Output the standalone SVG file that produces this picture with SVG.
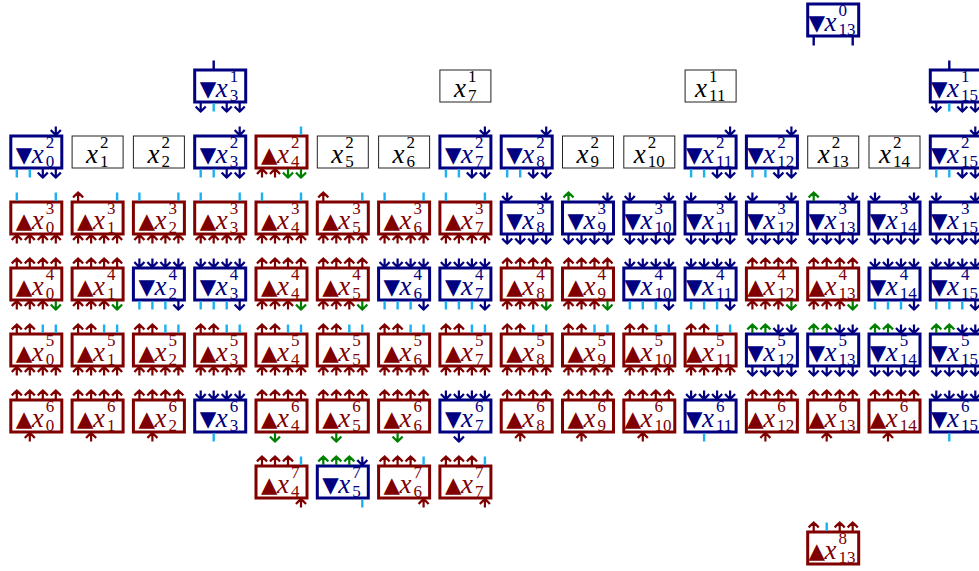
<svg xmlns="http://www.w3.org/2000/svg" width="979" height="571" viewBox="0 0 979 571">
<style>
rect{fill:#fff}
.R rect{stroke:#800000;stroke-width:3}
.B rect{stroke:#000080;stroke-width:3}
.P rect{stroke:#222;stroke-width:1}
.R text{fill:#800000}
.B text{fill:#000080}
.P text{fill:#000}
.t{font-family:"DejaVu Sans",sans-serif;font-size:21.5px}
.x{font-family:"Liberation Serif",serif;font-style:italic;font-size:27px}
.d{font-family:"Liberation Serif",serif;font-size:17px}
.ar path{fill:none;stroke:currentColor;stroke-width:2.2}
.tk{fill:none;stroke:currentColor;stroke-width:2.4}
.cr{color:#800000}
.cb{color:#000080}
.cg{color:#008000}
.cc{color:#1CB0F0}
.cn{color:#000080}
</style>
<defs>
<g id="dn" class="ar"><path d="M0,-8.5V0M-5,-5C-3.2,-2.8 -1.1,-1.1 0,0C1.1,-1.1 3.2,-2.8 5,-5"/></g>
<g id="up" class="ar"><path d="M0,8.5V0M-5,5C-3.2,2.8 -1.1,1.1 0,0C1.1,1.1 3.2,2.8 5,5"/></g>
<path id="tk" class="tk" d="M0,0V8.5"/>
<g id="bR4"><use href="#up" class="cr" x="-19.5" y="17"/><use href="#up" class="cr" x="-6.5" y="17"/><use href="#up" class="cr" x="6.5" y="17"/><use href="#up" class="cr" x="19.5" y="17"/></g>
<g id="bB4"><use href="#dn" class="cb" x="-19.5" y="25.5"/><use href="#dn" class="cb" x="-6.5" y="25.5"/><use href="#dn" class="cb" x="6.5" y="25.5"/><use href="#dn" class="cb" x="19.5" y="25.5"/></g>
<g id="tR4"><use href="#up" class="cr" x="-19.5" y="-25.5"/><use href="#up" class="cr" x="-6.5" y="-25.5"/><use href="#up" class="cr" x="6.5" y="-25.5"/><use href="#up" class="cr" x="19.5" y="-25.5"/></g>
<g id="tB4"><use href="#dn" class="cb" x="-19.5" y="-17"/><use href="#dn" class="cb" x="-6.5" y="-17"/><use href="#dn" class="cb" x="6.5" y="-17"/><use href="#dn" class="cb" x="19.5" y="-17"/></g>
<g id="T0"><use href="#tk" class="cn" x="-19.5" y="17"/><use href="#tk" class="cn" x="19.5" y="17"/></g>
<g id="T1"><use href="#tk" class="cn" x="-6.5" y="-25.5"/><use href="#dn" class="cb" x="-19.5" y="25.5"/><use href="#tk" class="cc" x="-6.5" y="17"/><use href="#dn" class="cb" x="6.5" y="25.5"/><use href="#dn" class="cb" x="19.5" y="25.5"/></g>
<g id="T2B"><use href="#dn" class="cb" x="19.5" y="-17"/><use href="#tk" class="cc" x="-19.5" y="17"/><use href="#tk" class="cc" x="-6.5" y="17"/><use href="#dn" class="cb" x="6.5" y="25.5"/><use href="#dn" class="cb" x="19.5" y="25.5"/></g>
<g id="T2R"><use href="#tk" class="cc" x="19.5" y="-25.5"/><use href="#up" class="cr" x="-19.5" y="17"/><use href="#up" class="cr" x="-6.5" y="17"/><use href="#dn" class="cg" x="6.5" y="25.5"/><use href="#dn" class="cg" x="19.5" y="25.5"/></g>
<g id="T3Ra"><use href="#tk" class="cc" x="-19.5" y="-25.5"/><use href="#tk" class="cc" x="19.5" y="-25.5"/><use href="#bR4"/></g>
<g id="T3Rb"><use href="#up" class="cr" x="-19.5" y="-25.5"/><use href="#tk" class="cc" x="19.5" y="-25.5"/><use href="#bR4"/></g>
<g id="T3Ba"><use href="#dn" class="cb" x="-19.5" y="-17"/><use href="#dn" class="cb" x="19.5" y="-17"/><use href="#bB4"/></g>
<g id="T3Bb"><use href="#up" class="cg" x="-19.5" y="-25.5"/><use href="#dn" class="cb" x="19.5" y="-17"/><use href="#bB4"/></g>
<g id="T4R"><use href="#tR4"/><use href="#up" class="cr" x="-19.5" y="17"/><use href="#up" class="cr" x="-6.5" y="17"/><use href="#up" class="cr" x="6.5" y="17"/><use href="#dn" class="cg" x="19.5" y="25.5"/></g>
<g id="T4B"><use href="#tB4"/><use href="#tk" class="cc" x="-19.5" y="17"/><use href="#tk" class="cc" x="-6.5" y="17"/><use href="#tk" class="cc" x="6.5" y="17"/><use href="#dn" class="cb" x="19.5" y="25.5"/></g>
<g id="T5R"><use href="#up" class="cr" x="-19.5" y="-25.5"/><use href="#up" class="cr" x="-6.5" y="-25.5"/><use href="#tk" class="cc" x="6.5" y="-25.5"/><use href="#tk" class="cc" x="19.5" y="-25.5"/><use href="#bR4"/></g>
<g id="T5B"><use href="#up" class="cg" x="-19.5" y="-25.5"/><use href="#up" class="cg" x="-6.5" y="-25.5"/><use href="#dn" class="cb" x="6.5" y="-17"/><use href="#dn" class="cb" x="19.5" y="-17"/><use href="#bB4"/></g>
<g id="T6Ra"><use href="#tR4"/><use href="#up" class="cr" x="-6.5" y="17"/></g>
<g id="T6Rg"><use href="#tR4"/><use href="#dn" class="cg" x="-6.5" y="25.5"/></g>
<g id="T6Bc"><use href="#tB4"/><use href="#tk" class="cc" x="-6.5" y="17"/></g>
<g id="T6Bb"><use href="#tB4"/><use href="#dn" class="cb" x="-6.5" y="25.5"/></g>
<g id="T7R"><use href="#up" class="cr" x="-19.5" y="-25.5"/><use href="#up" class="cr" x="-6.5" y="-25.5"/><use href="#up" class="cr" x="6.5" y="-25.5"/><use href="#tk" class="cc" x="19.5" y="-25.5"/><use href="#up" class="cr" x="19.5" y="17"/></g>
<g id="T7B"><use href="#up" class="cg" x="-19.5" y="-25.5"/><use href="#up" class="cg" x="-6.5" y="-25.5"/><use href="#up" class="cg" x="6.5" y="-25.5"/><use href="#dn" class="cb" x="19.5" y="-17"/><use href="#tk" class="cc" x="19.5" y="17"/></g>
<g id="T8"><use href="#up" class="cr" x="-19.5" y="-25.5"/><use href="#tk" class="cc" x="-6.5" y="-25.5"/><use href="#up" class="cr" x="6.5" y="-25.5"/><use href="#up" class="cr" x="19.5" y="-25.5"/></g>
</defs>

<g id="nodes">
<g id="x0_13" class="B" transform="translate(833.2,20)"><rect x="-25.5" y="-16" width="51" height="32"/><text><tspan class="t" x="-24.7" y="10">▼</tspan><tspan class="x" x="-8.7" y="11">x</tspan><tspan class="d" x="5.3" y="-4.2">0</tspan><tspan class="d" x="5.3" y="14.7">13</tspan></text></g>

<g id="x1_3" class="B" transform="translate(220.2,86)"><rect x="-25.5" y="-16" width="51" height="32"/><text><tspan class="t" x="-20.5" y="10">▼</tspan><tspan class="x" x="-4.5" y="11">x</tspan><tspan class="d" x="9.5" y="-4.2">1</tspan><tspan class="d" x="9.5" y="14.7">3</tspan></text></g>
<g id="x1_7" class="P" transform="translate(465.4,86)"><rect x="-25.5" y="-16" width="51" height="32"/><text><tspan class="x" x="-11.5" y="11">x</tspan><tspan class="d" x="2.5" y="-4.2">1</tspan><tspan class="d" x="2.5" y="14.7">7</tspan></text></g>
<g id="x1_11" class="P" transform="translate(710.6,86)"><rect x="-25.5" y="-16" width="51" height="32"/><text><tspan class="x" x="-15.5" y="11">x</tspan><tspan class="d" x="-1.5" y="-4.2">1</tspan><tspan class="d" x="-1.5" y="14.7">11</tspan></text></g>
<g id="x1_15" class="B" transform="translate(955.8,86)"><rect x="-25.5" y="-16" width="51" height="32"/><text><tspan class="t" x="-24.7" y="10">▼</tspan><tspan class="x" x="-8.7" y="11">x</tspan><tspan class="d" x="5.3" y="-4.2">1</tspan><tspan class="d" x="5.3" y="14.7">15</tspan></text></g>

<g id="x2_0" class="B" transform="translate(36.3,152)"><rect x="-25.5" y="-16" width="51" height="32"/><text><tspan class="t" x="-20.5" y="10">▼</tspan><tspan class="x" x="-4.5" y="11">x</tspan><tspan class="d" x="9.5" y="-4.2">2</tspan><tspan class="d" x="9.5" y="14.7">0</tspan></text></g>
<g id="x2_1" class="P" transform="translate(97.6,152)"><rect x="-25.5" y="-16" width="51" height="32"/><text><tspan class="x" x="-11.5" y="11">x</tspan><tspan class="d" x="2.5" y="-4.2">2</tspan><tspan class="d" x="2.5" y="14.7">1</tspan></text></g>
<g id="x2_2" class="P" transform="translate(158.9,152)"><rect x="-25.5" y="-16" width="51" height="32"/><text><tspan class="x" x="-11.5" y="11">x</tspan><tspan class="d" x="2.5" y="-4.2">2</tspan><tspan class="d" x="2.5" y="14.7">2</tspan></text></g>
<g id="x2_3" class="B" transform="translate(220.2,152)"><rect x="-25.5" y="-16" width="51" height="32"/><text><tspan class="t" x="-20.5" y="10">▼</tspan><tspan class="x" x="-4.5" y="11">x</tspan><tspan class="d" x="9.5" y="-4.2">2</tspan><tspan class="d" x="9.5" y="14.7">3</tspan></text></g>
<g id="x2_4" class="R" transform="translate(281.5,152)"><rect x="-25.5" y="-16" width="51" height="32"/><text><tspan class="t" x="-20.5" y="10">▲</tspan><tspan class="x" x="-4.5" y="11">x</tspan><tspan class="d" x="9.5" y="-4.2">2</tspan><tspan class="d" x="9.5" y="14.7">4</tspan></text></g>
<g id="x2_5" class="P" transform="translate(342.8,152)"><rect x="-25.5" y="-16" width="51" height="32"/><text><tspan class="x" x="-11.5" y="11">x</tspan><tspan class="d" x="2.5" y="-4.2">2</tspan><tspan class="d" x="2.5" y="14.7">5</tspan></text></g>
<g id="x2_6" class="P" transform="translate(404.1,152)"><rect x="-25.5" y="-16" width="51" height="32"/><text><tspan class="x" x="-11.5" y="11">x</tspan><tspan class="d" x="2.5" y="-4.2">2</tspan><tspan class="d" x="2.5" y="14.7">6</tspan></text></g>
<g id="x2_7" class="B" transform="translate(465.4,152)"><rect x="-25.5" y="-16" width="51" height="32"/><text><tspan class="t" x="-20.5" y="10">▼</tspan><tspan class="x" x="-4.5" y="11">x</tspan><tspan class="d" x="9.5" y="-4.2">2</tspan><tspan class="d" x="9.5" y="14.7">7</tspan></text></g>
<g id="x2_8" class="B" transform="translate(526.7,152)"><rect x="-25.5" y="-16" width="51" height="32"/><text><tspan class="t" x="-20.5" y="10">▼</tspan><tspan class="x" x="-4.5" y="11">x</tspan><tspan class="d" x="9.5" y="-4.2">2</tspan><tspan class="d" x="9.5" y="14.7">8</tspan></text></g>
<g id="x2_9" class="P" transform="translate(588,152)"><rect x="-25.5" y="-16" width="51" height="32"/><text><tspan class="x" x="-11.5" y="11">x</tspan><tspan class="d" x="2.5" y="-4.2">2</tspan><tspan class="d" x="2.5" y="14.7">9</tspan></text></g>
<g id="x2_10" class="P" transform="translate(649.3,152)"><rect x="-25.5" y="-16" width="51" height="32"/><text><tspan class="x" x="-15.5" y="11">x</tspan><tspan class="d" x="-1.5" y="-4.2">2</tspan><tspan class="d" x="-1.5" y="14.7">10</tspan></text></g>
<g id="x2_11" class="B" transform="translate(710.6,152)"><rect x="-25.5" y="-16" width="51" height="32"/><text><tspan class="t" x="-24.7" y="10">▼</tspan><tspan class="x" x="-8.7" y="11">x</tspan><tspan class="d" x="5.3" y="-4.2">2</tspan><tspan class="d" x="5.3" y="14.7">11</tspan></text></g>
<g id="x2_12" class="B" transform="translate(771.9,152)"><rect x="-25.5" y="-16" width="51" height="32"/><text><tspan class="t" x="-24.7" y="10">▼</tspan><tspan class="x" x="-8.7" y="11">x</tspan><tspan class="d" x="5.3" y="-4.2">2</tspan><tspan class="d" x="5.3" y="14.7">12</tspan></text></g>
<g id="x2_13" class="P" transform="translate(833.2,152)"><rect x="-25.5" y="-16" width="51" height="32"/><text><tspan class="x" x="-15.5" y="11">x</tspan><tspan class="d" x="-1.5" y="-4.2">2</tspan><tspan class="d" x="-1.5" y="14.7">13</tspan></text></g>
<g id="x2_14" class="P" transform="translate(894.5,152)"><rect x="-25.5" y="-16" width="51" height="32"/><text><tspan class="x" x="-15.5" y="11">x</tspan><tspan class="d" x="-1.5" y="-4.2">2</tspan><tspan class="d" x="-1.5" y="14.7">14</tspan></text></g>
<g id="x2_15" class="B" transform="translate(955.8,152)"><rect x="-25.5" y="-16" width="51" height="32"/><text><tspan class="t" x="-24.7" y="10">▼</tspan><tspan class="x" x="-8.7" y="11">x</tspan><tspan class="d" x="5.3" y="-4.2">2</tspan><tspan class="d" x="5.3" y="14.7">15</tspan></text></g>

<g id="x3_0" class="R" transform="translate(36.3,218)"><rect x="-25.5" y="-16" width="51" height="32"/><text><tspan class="t" x="-20.5" y="10">▲</tspan><tspan class="x" x="-4.5" y="11">x</tspan><tspan class="d" x="9.5" y="-4.2">3</tspan><tspan class="d" x="9.5" y="14.7">0</tspan></text></g>
<g id="x3_1" class="R" transform="translate(97.6,218)"><rect x="-25.5" y="-16" width="51" height="32"/><text><tspan class="t" x="-20.5" y="10">▲</tspan><tspan class="x" x="-4.5" y="11">x</tspan><tspan class="d" x="9.5" y="-4.2">3</tspan><tspan class="d" x="9.5" y="14.7">1</tspan></text></g>
<g id="x3_2" class="R" transform="translate(158.9,218)"><rect x="-25.5" y="-16" width="51" height="32"/><text><tspan class="t" x="-20.5" y="10">▲</tspan><tspan class="x" x="-4.5" y="11">x</tspan><tspan class="d" x="9.5" y="-4.2">3</tspan><tspan class="d" x="9.5" y="14.7">2</tspan></text></g>
<g id="x3_3" class="R" transform="translate(220.2,218)"><rect x="-25.5" y="-16" width="51" height="32"/><text><tspan class="t" x="-20.5" y="10">▲</tspan><tspan class="x" x="-4.5" y="11">x</tspan><tspan class="d" x="9.5" y="-4.2">3</tspan><tspan class="d" x="9.5" y="14.7">3</tspan></text></g>
<g id="x3_4" class="R" transform="translate(281.5,218)"><rect x="-25.5" y="-16" width="51" height="32"/><text><tspan class="t" x="-20.5" y="10">▲</tspan><tspan class="x" x="-4.5" y="11">x</tspan><tspan class="d" x="9.5" y="-4.2">3</tspan><tspan class="d" x="9.5" y="14.7">4</tspan></text></g>
<g id="x3_5" class="R" transform="translate(342.8,218)"><rect x="-25.5" y="-16" width="51" height="32"/><text><tspan class="t" x="-20.5" y="10">▲</tspan><tspan class="x" x="-4.5" y="11">x</tspan><tspan class="d" x="9.5" y="-4.2">3</tspan><tspan class="d" x="9.5" y="14.7">5</tspan></text></g>
<g id="x3_6" class="R" transform="translate(404.1,218)"><rect x="-25.5" y="-16" width="51" height="32"/><text><tspan class="t" x="-20.5" y="10">▲</tspan><tspan class="x" x="-4.5" y="11">x</tspan><tspan class="d" x="9.5" y="-4.2">3</tspan><tspan class="d" x="9.5" y="14.7">6</tspan></text></g>
<g id="x3_7" class="R" transform="translate(465.4,218)"><rect x="-25.5" y="-16" width="51" height="32"/><text><tspan class="t" x="-20.5" y="10">▲</tspan><tspan class="x" x="-4.5" y="11">x</tspan><tspan class="d" x="9.5" y="-4.2">3</tspan><tspan class="d" x="9.5" y="14.7">7</tspan></text></g>
<g id="x3_8" class="B" transform="translate(526.7,218)"><rect x="-25.5" y="-16" width="51" height="32"/><text><tspan class="t" x="-20.5" y="10">▼</tspan><tspan class="x" x="-4.5" y="11">x</tspan><tspan class="d" x="9.5" y="-4.2">3</tspan><tspan class="d" x="9.5" y="14.7">8</tspan></text></g>
<g id="x3_9" class="B" transform="translate(588,218)"><rect x="-25.5" y="-16" width="51" height="32"/><text><tspan class="t" x="-20.5" y="10">▼</tspan><tspan class="x" x="-4.5" y="11">x</tspan><tspan class="d" x="9.5" y="-4.2">3</tspan><tspan class="d" x="9.5" y="14.7">9</tspan></text></g>
<g id="x3_10" class="B" transform="translate(649.3,218)"><rect x="-25.5" y="-16" width="51" height="32"/><text><tspan class="t" x="-24.7" y="10">▼</tspan><tspan class="x" x="-8.7" y="11">x</tspan><tspan class="d" x="5.3" y="-4.2">3</tspan><tspan class="d" x="5.3" y="14.7">10</tspan></text></g>
<g id="x3_11" class="B" transform="translate(710.6,218)"><rect x="-25.5" y="-16" width="51" height="32"/><text><tspan class="t" x="-24.7" y="10">▼</tspan><tspan class="x" x="-8.7" y="11">x</tspan><tspan class="d" x="5.3" y="-4.2">3</tspan><tspan class="d" x="5.3" y="14.7">11</tspan></text></g>
<g id="x3_12" class="B" transform="translate(771.9,218)"><rect x="-25.5" y="-16" width="51" height="32"/><text><tspan class="t" x="-24.7" y="10">▼</tspan><tspan class="x" x="-8.7" y="11">x</tspan><tspan class="d" x="5.3" y="-4.2">3</tspan><tspan class="d" x="5.3" y="14.7">12</tspan></text></g>
<g id="x3_13" class="B" transform="translate(833.2,218)"><rect x="-25.5" y="-16" width="51" height="32"/><text><tspan class="t" x="-24.7" y="10">▼</tspan><tspan class="x" x="-8.7" y="11">x</tspan><tspan class="d" x="5.3" y="-4.2">3</tspan><tspan class="d" x="5.3" y="14.7">13</tspan></text></g>
<g id="x3_14" class="B" transform="translate(894.5,218)"><rect x="-25.5" y="-16" width="51" height="32"/><text><tspan class="t" x="-24.7" y="10">▼</tspan><tspan class="x" x="-8.7" y="11">x</tspan><tspan class="d" x="5.3" y="-4.2">3</tspan><tspan class="d" x="5.3" y="14.7">14</tspan></text></g>
<g id="x3_15" class="B" transform="translate(955.8,218)"><rect x="-25.5" y="-16" width="51" height="32"/><text><tspan class="t" x="-24.7" y="10">▼</tspan><tspan class="x" x="-8.7" y="11">x</tspan><tspan class="d" x="5.3" y="-4.2">3</tspan><tspan class="d" x="5.3" y="14.7">15</tspan></text></g>

<g id="x4_0" class="R" transform="translate(36.3,284)"><rect x="-25.5" y="-16" width="51" height="32"/><text><tspan class="t" x="-20.5" y="10">▲</tspan><tspan class="x" x="-4.5" y="11">x</tspan><tspan class="d" x="9.5" y="-4.2">4</tspan><tspan class="d" x="9.5" y="14.7">0</tspan></text></g>
<g id="x4_1" class="R" transform="translate(97.6,284)"><rect x="-25.5" y="-16" width="51" height="32"/><text><tspan class="t" x="-20.5" y="10">▲</tspan><tspan class="x" x="-4.5" y="11">x</tspan><tspan class="d" x="9.5" y="-4.2">4</tspan><tspan class="d" x="9.5" y="14.7">1</tspan></text></g>
<g id="x4_2" class="B" transform="translate(158.9,284)"><rect x="-25.5" y="-16" width="51" height="32"/><text><tspan class="t" x="-20.5" y="10">▼</tspan><tspan class="x" x="-4.5" y="11">x</tspan><tspan class="d" x="9.5" y="-4.2">4</tspan><tspan class="d" x="9.5" y="14.7">2</tspan></text></g>
<g id="x4_3" class="B" transform="translate(220.2,284)"><rect x="-25.5" y="-16" width="51" height="32"/><text><tspan class="t" x="-20.5" y="10">▼</tspan><tspan class="x" x="-4.5" y="11">x</tspan><tspan class="d" x="9.5" y="-4.2">4</tspan><tspan class="d" x="9.5" y="14.7">3</tspan></text></g>
<g id="x4_4" class="R" transform="translate(281.5,284)"><rect x="-25.5" y="-16" width="51" height="32"/><text><tspan class="t" x="-20.5" y="10">▲</tspan><tspan class="x" x="-4.5" y="11">x</tspan><tspan class="d" x="9.5" y="-4.2">4</tspan><tspan class="d" x="9.5" y="14.7">4</tspan></text></g>
<g id="x4_5" class="R" transform="translate(342.8,284)"><rect x="-25.5" y="-16" width="51" height="32"/><text><tspan class="t" x="-20.5" y="10">▲</tspan><tspan class="x" x="-4.5" y="11">x</tspan><tspan class="d" x="9.5" y="-4.2">4</tspan><tspan class="d" x="9.5" y="14.7">5</tspan></text></g>
<g id="x4_6" class="B" transform="translate(404.1,284)"><rect x="-25.5" y="-16" width="51" height="32"/><text><tspan class="t" x="-20.5" y="10">▼</tspan><tspan class="x" x="-4.5" y="11">x</tspan><tspan class="d" x="9.5" y="-4.2">4</tspan><tspan class="d" x="9.5" y="14.7">6</tspan></text></g>
<g id="x4_7" class="B" transform="translate(465.4,284)"><rect x="-25.5" y="-16" width="51" height="32"/><text><tspan class="t" x="-20.5" y="10">▼</tspan><tspan class="x" x="-4.5" y="11">x</tspan><tspan class="d" x="9.5" y="-4.2">4</tspan><tspan class="d" x="9.5" y="14.7">7</tspan></text></g>
<g id="x4_8" class="R" transform="translate(526.7,284)"><rect x="-25.5" y="-16" width="51" height="32"/><text><tspan class="t" x="-20.5" y="10">▲</tspan><tspan class="x" x="-4.5" y="11">x</tspan><tspan class="d" x="9.5" y="-4.2">4</tspan><tspan class="d" x="9.5" y="14.7">8</tspan></text></g>
<g id="x4_9" class="R" transform="translate(588,284)"><rect x="-25.5" y="-16" width="51" height="32"/><text><tspan class="t" x="-20.5" y="10">▲</tspan><tspan class="x" x="-4.5" y="11">x</tspan><tspan class="d" x="9.5" y="-4.2">4</tspan><tspan class="d" x="9.5" y="14.7">9</tspan></text></g>
<g id="x4_10" class="B" transform="translate(649.3,284)"><rect x="-25.5" y="-16" width="51" height="32"/><text><tspan class="t" x="-24.7" y="10">▼</tspan><tspan class="x" x="-8.7" y="11">x</tspan><tspan class="d" x="5.3" y="-4.2">4</tspan><tspan class="d" x="5.3" y="14.7">10</tspan></text></g>
<g id="x4_11" class="B" transform="translate(710.6,284)"><rect x="-25.5" y="-16" width="51" height="32"/><text><tspan class="t" x="-24.7" y="10">▼</tspan><tspan class="x" x="-8.7" y="11">x</tspan><tspan class="d" x="5.3" y="-4.2">4</tspan><tspan class="d" x="5.3" y="14.7">11</tspan></text></g>
<g id="x4_12" class="R" transform="translate(771.9,284)"><rect x="-25.5" y="-16" width="51" height="32"/><text><tspan class="t" x="-24.7" y="10">▲</tspan><tspan class="x" x="-8.7" y="11">x</tspan><tspan class="d" x="5.3" y="-4.2">4</tspan><tspan class="d" x="5.3" y="14.7">12</tspan></text></g>
<g id="x4_13" class="R" transform="translate(833.2,284)"><rect x="-25.5" y="-16" width="51" height="32"/><text><tspan class="t" x="-24.7" y="10">▲</tspan><tspan class="x" x="-8.7" y="11">x</tspan><tspan class="d" x="5.3" y="-4.2">4</tspan><tspan class="d" x="5.3" y="14.7">13</tspan></text></g>
<g id="x4_14" class="B" transform="translate(894.5,284)"><rect x="-25.5" y="-16" width="51" height="32"/><text><tspan class="t" x="-24.7" y="10">▼</tspan><tspan class="x" x="-8.7" y="11">x</tspan><tspan class="d" x="5.3" y="-4.2">4</tspan><tspan class="d" x="5.3" y="14.7">14</tspan></text></g>
<g id="x4_15" class="B" transform="translate(955.8,284)"><rect x="-25.5" y="-16" width="51" height="32"/><text><tspan class="t" x="-24.7" y="10">▼</tspan><tspan class="x" x="-8.7" y="11">x</tspan><tspan class="d" x="5.3" y="-4.2">4</tspan><tspan class="d" x="5.3" y="14.7">15</tspan></text></g>

<g id="x5_0" class="R" transform="translate(36.3,350)"><rect x="-25.5" y="-16" width="51" height="32"/><text><tspan class="t" x="-20.5" y="10">▲</tspan><tspan class="x" x="-4.5" y="11">x</tspan><tspan class="d" x="9.5" y="-4.2">5</tspan><tspan class="d" x="9.5" y="14.7">0</tspan></text></g>
<g id="x5_1" class="R" transform="translate(97.6,350)"><rect x="-25.5" y="-16" width="51" height="32"/><text><tspan class="t" x="-20.5" y="10">▲</tspan><tspan class="x" x="-4.5" y="11">x</tspan><tspan class="d" x="9.5" y="-4.2">5</tspan><tspan class="d" x="9.5" y="14.7">1</tspan></text></g>
<g id="x5_2" class="R" transform="translate(158.9,350)"><rect x="-25.5" y="-16" width="51" height="32"/><text><tspan class="t" x="-20.5" y="10">▲</tspan><tspan class="x" x="-4.5" y="11">x</tspan><tspan class="d" x="9.5" y="-4.2">5</tspan><tspan class="d" x="9.5" y="14.7">2</tspan></text></g>
<g id="x5_3" class="R" transform="translate(220.2,350)"><rect x="-25.5" y="-16" width="51" height="32"/><text><tspan class="t" x="-20.5" y="10">▲</tspan><tspan class="x" x="-4.5" y="11">x</tspan><tspan class="d" x="9.5" y="-4.2">5</tspan><tspan class="d" x="9.5" y="14.7">3</tspan></text></g>
<g id="x5_4" class="R" transform="translate(281.5,350)"><rect x="-25.5" y="-16" width="51" height="32"/><text><tspan class="t" x="-20.5" y="10">▲</tspan><tspan class="x" x="-4.5" y="11">x</tspan><tspan class="d" x="9.5" y="-4.2">5</tspan><tspan class="d" x="9.5" y="14.7">4</tspan></text></g>
<g id="x5_5" class="R" transform="translate(342.8,350)"><rect x="-25.5" y="-16" width="51" height="32"/><text><tspan class="t" x="-20.5" y="10">▲</tspan><tspan class="x" x="-4.5" y="11">x</tspan><tspan class="d" x="9.5" y="-4.2">5</tspan><tspan class="d" x="9.5" y="14.7">5</tspan></text></g>
<g id="x5_6" class="R" transform="translate(404.1,350)"><rect x="-25.5" y="-16" width="51" height="32"/><text><tspan class="t" x="-20.5" y="10">▲</tspan><tspan class="x" x="-4.5" y="11">x</tspan><tspan class="d" x="9.5" y="-4.2">5</tspan><tspan class="d" x="9.5" y="14.7">6</tspan></text></g>
<g id="x5_7" class="R" transform="translate(465.4,350)"><rect x="-25.5" y="-16" width="51" height="32"/><text><tspan class="t" x="-20.5" y="10">▲</tspan><tspan class="x" x="-4.5" y="11">x</tspan><tspan class="d" x="9.5" y="-4.2">5</tspan><tspan class="d" x="9.5" y="14.7">7</tspan></text></g>
<g id="x5_8" class="R" transform="translate(526.7,350)"><rect x="-25.5" y="-16" width="51" height="32"/><text><tspan class="t" x="-20.5" y="10">▲</tspan><tspan class="x" x="-4.5" y="11">x</tspan><tspan class="d" x="9.5" y="-4.2">5</tspan><tspan class="d" x="9.5" y="14.7">8</tspan></text></g>
<g id="x5_9" class="R" transform="translate(588,350)"><rect x="-25.5" y="-16" width="51" height="32"/><text><tspan class="t" x="-20.5" y="10">▲</tspan><tspan class="x" x="-4.5" y="11">x</tspan><tspan class="d" x="9.5" y="-4.2">5</tspan><tspan class="d" x="9.5" y="14.7">9</tspan></text></g>
<g id="x5_10" class="R" transform="translate(649.3,350)"><rect x="-25.5" y="-16" width="51" height="32"/><text><tspan class="t" x="-24.7" y="10">▲</tspan><tspan class="x" x="-8.7" y="11">x</tspan><tspan class="d" x="5.3" y="-4.2">5</tspan><tspan class="d" x="5.3" y="14.7">10</tspan></text></g>
<g id="x5_11" class="R" transform="translate(710.6,350)"><rect x="-25.5" y="-16" width="51" height="32"/><text><tspan class="t" x="-24.7" y="10">▲</tspan><tspan class="x" x="-8.7" y="11">x</tspan><tspan class="d" x="5.3" y="-4.2">5</tspan><tspan class="d" x="5.3" y="14.7">11</tspan></text></g>
<g id="x5_12" class="B" transform="translate(771.9,350)"><rect x="-25.5" y="-16" width="51" height="32"/><text><tspan class="t" x="-24.7" y="10">▼</tspan><tspan class="x" x="-8.7" y="11">x</tspan><tspan class="d" x="5.3" y="-4.2">5</tspan><tspan class="d" x="5.3" y="14.7">12</tspan></text></g>
<g id="x5_13" class="B" transform="translate(833.2,350)"><rect x="-25.5" y="-16" width="51" height="32"/><text><tspan class="t" x="-24.7" y="10">▼</tspan><tspan class="x" x="-8.7" y="11">x</tspan><tspan class="d" x="5.3" y="-4.2">5</tspan><tspan class="d" x="5.3" y="14.7">13</tspan></text></g>
<g id="x5_14" class="B" transform="translate(894.5,350)"><rect x="-25.5" y="-16" width="51" height="32"/><text><tspan class="t" x="-24.7" y="10">▼</tspan><tspan class="x" x="-8.7" y="11">x</tspan><tspan class="d" x="5.3" y="-4.2">5</tspan><tspan class="d" x="5.3" y="14.7">14</tspan></text></g>
<g id="x5_15" class="B" transform="translate(955.8,350)"><rect x="-25.5" y="-16" width="51" height="32"/><text><tspan class="t" x="-24.7" y="10">▼</tspan><tspan class="x" x="-8.7" y="11">x</tspan><tspan class="d" x="5.3" y="-4.2">5</tspan><tspan class="d" x="5.3" y="14.7">15</tspan></text></g>

<g id="x6_0" class="R" transform="translate(36.3,416)"><rect x="-25.5" y="-16" width="51" height="32"/><text><tspan class="t" x="-20.5" y="10">▲</tspan><tspan class="x" x="-4.5" y="11">x</tspan><tspan class="d" x="9.5" y="-4.2">6</tspan><tspan class="d" x="9.5" y="14.7">0</tspan></text></g>
<g id="x6_1" class="R" transform="translate(97.6,416)"><rect x="-25.5" y="-16" width="51" height="32"/><text><tspan class="t" x="-20.5" y="10">▲</tspan><tspan class="x" x="-4.5" y="11">x</tspan><tspan class="d" x="9.5" y="-4.2">6</tspan><tspan class="d" x="9.5" y="14.7">1</tspan></text></g>
<g id="x6_2" class="R" transform="translate(158.9,416)"><rect x="-25.5" y="-16" width="51" height="32"/><text><tspan class="t" x="-20.5" y="10">▲</tspan><tspan class="x" x="-4.5" y="11">x</tspan><tspan class="d" x="9.5" y="-4.2">6</tspan><tspan class="d" x="9.5" y="14.7">2</tspan></text></g>
<g id="x6_3" class="B" transform="translate(220.2,416)"><rect x="-25.5" y="-16" width="51" height="32"/><text><tspan class="t" x="-20.5" y="10">▼</tspan><tspan class="x" x="-4.5" y="11">x</tspan><tspan class="d" x="9.5" y="-4.2">6</tspan><tspan class="d" x="9.5" y="14.7">3</tspan></text></g>
<g id="x6_4" class="R" transform="translate(281.5,416)"><rect x="-25.5" y="-16" width="51" height="32"/><text><tspan class="t" x="-20.5" y="10">▲</tspan><tspan class="x" x="-4.5" y="11">x</tspan><tspan class="d" x="9.5" y="-4.2">6</tspan><tspan class="d" x="9.5" y="14.7">4</tspan></text></g>
<g id="x6_5" class="R" transform="translate(342.8,416)"><rect x="-25.5" y="-16" width="51" height="32"/><text><tspan class="t" x="-20.5" y="10">▲</tspan><tspan class="x" x="-4.5" y="11">x</tspan><tspan class="d" x="9.5" y="-4.2">6</tspan><tspan class="d" x="9.5" y="14.7">5</tspan></text></g>
<g id="x6_6" class="R" transform="translate(404.1,416)"><rect x="-25.5" y="-16" width="51" height="32"/><text><tspan class="t" x="-20.5" y="10">▲</tspan><tspan class="x" x="-4.5" y="11">x</tspan><tspan class="d" x="9.5" y="-4.2">6</tspan><tspan class="d" x="9.5" y="14.7">6</tspan></text></g>
<g id="x6_7" class="B" transform="translate(465.4,416)"><rect x="-25.5" y="-16" width="51" height="32"/><text><tspan class="t" x="-20.5" y="10">▼</tspan><tspan class="x" x="-4.5" y="11">x</tspan><tspan class="d" x="9.5" y="-4.2">6</tspan><tspan class="d" x="9.5" y="14.7">7</tspan></text></g>
<g id="x6_8" class="R" transform="translate(526.7,416)"><rect x="-25.5" y="-16" width="51" height="32"/><text><tspan class="t" x="-20.5" y="10">▲</tspan><tspan class="x" x="-4.5" y="11">x</tspan><tspan class="d" x="9.5" y="-4.2">6</tspan><tspan class="d" x="9.5" y="14.7">8</tspan></text></g>
<g id="x6_9" class="R" transform="translate(588,416)"><rect x="-25.5" y="-16" width="51" height="32"/><text><tspan class="t" x="-20.5" y="10">▲</tspan><tspan class="x" x="-4.5" y="11">x</tspan><tspan class="d" x="9.5" y="-4.2">6</tspan><tspan class="d" x="9.5" y="14.7">9</tspan></text></g>
<g id="x6_10" class="R" transform="translate(649.3,416)"><rect x="-25.5" y="-16" width="51" height="32"/><text><tspan class="t" x="-24.7" y="10">▲</tspan><tspan class="x" x="-8.7" y="11">x</tspan><tspan class="d" x="5.3" y="-4.2">6</tspan><tspan class="d" x="5.3" y="14.7">10</tspan></text></g>
<g id="x6_11" class="B" transform="translate(710.6,416)"><rect x="-25.5" y="-16" width="51" height="32"/><text><tspan class="t" x="-24.7" y="10">▼</tspan><tspan class="x" x="-8.7" y="11">x</tspan><tspan class="d" x="5.3" y="-4.2">6</tspan><tspan class="d" x="5.3" y="14.7">11</tspan></text></g>
<g id="x6_12" class="R" transform="translate(771.9,416)"><rect x="-25.5" y="-16" width="51" height="32"/><text><tspan class="t" x="-24.7" y="10">▲</tspan><tspan class="x" x="-8.7" y="11">x</tspan><tspan class="d" x="5.3" y="-4.2">6</tspan><tspan class="d" x="5.3" y="14.7">12</tspan></text></g>
<g id="x6_13" class="R" transform="translate(833.2,416)"><rect x="-25.5" y="-16" width="51" height="32"/><text><tspan class="t" x="-24.7" y="10">▲</tspan><tspan class="x" x="-8.7" y="11">x</tspan><tspan class="d" x="5.3" y="-4.2">6</tspan><tspan class="d" x="5.3" y="14.7">13</tspan></text></g>
<g id="x6_14" class="R" transform="translate(894.5,416)"><rect x="-25.5" y="-16" width="51" height="32"/><text><tspan class="t" x="-24.7" y="10">▲</tspan><tspan class="x" x="-8.7" y="11">x</tspan><tspan class="d" x="5.3" y="-4.2">6</tspan><tspan class="d" x="5.3" y="14.7">14</tspan></text></g>
<g id="x6_15" class="B" transform="translate(955.8,416)"><rect x="-25.5" y="-16" width="51" height="32"/><text><tspan class="t" x="-24.7" y="10">▼</tspan><tspan class="x" x="-8.7" y="11">x</tspan><tspan class="d" x="5.3" y="-4.2">6</tspan><tspan class="d" x="5.3" y="14.7">15</tspan></text></g>

<g id="x7_4" class="R" transform="translate(281.5,482)"><rect x="-25.5" y="-16" width="51" height="32"/><text><tspan class="t" x="-20.5" y="10">▲</tspan><tspan class="x" x="-4.5" y="11">x</tspan><tspan class="d" x="9.5" y="-4.2">7</tspan><tspan class="d" x="9.5" y="14.7">4</tspan></text></g>
<g id="x7_5" class="B" transform="translate(342.8,482)"><rect x="-25.5" y="-16" width="51" height="32"/><text><tspan class="t" x="-20.5" y="10">▼</tspan><tspan class="x" x="-4.5" y="11">x</tspan><tspan class="d" x="9.5" y="-4.2">7</tspan><tspan class="d" x="9.5" y="14.7">5</tspan></text></g>
<g id="x7_6" class="R" transform="translate(404.1,482)"><rect x="-25.5" y="-16" width="51" height="32"/><text><tspan class="t" x="-20.5" y="10">▲</tspan><tspan class="x" x="-4.5" y="11">x</tspan><tspan class="d" x="9.5" y="-4.2">7</tspan><tspan class="d" x="9.5" y="14.7">6</tspan></text></g>
<g id="x7_7" class="R" transform="translate(465.4,482)"><rect x="-25.5" y="-16" width="51" height="32"/><text><tspan class="t" x="-20.5" y="10">▲</tspan><tspan class="x" x="-4.5" y="11">x</tspan><tspan class="d" x="9.5" y="-4.2">7</tspan><tspan class="d" x="9.5" y="14.7">7</tspan></text></g>

<g id="x8_13" class="R" transform="translate(833.2,548)"><rect x="-25.5" y="-16" width="51" height="32"/><text><tspan class="t" x="-24.7" y="10">▲</tspan><tspan class="x" x="-8.7" y="11">x</tspan><tspan class="d" x="5.3" y="-4.2">8</tspan><tspan class="d" x="5.3" y="14.7">13</tspan></text></g>
</g>

<g id="connectors">
<use href="#T0" x="833.2" y="20"/>
<use href="#T1" x="220.2" y="86"/>
<use href="#T1" x="955.8" y="86"/>
<use href="#T2B" x="36.3" y="152"/>
<use href="#T2B" x="220.2" y="152"/>
<use href="#T2R" x="281.5" y="152"/>
<use href="#T2B" x="465.4" y="152"/>
<use href="#T2B" x="526.7" y="152"/>
<use href="#T2B" x="710.6" y="152"/>
<use href="#T2B" x="771.9" y="152"/>
<use href="#T2B" x="955.8" y="152"/>
<use href="#T3Ra" x="36.3" y="218"/>
<use href="#T3Rb" x="97.6" y="218"/>
<use href="#T3Ra" x="158.9" y="218"/>
<use href="#T3Ra" x="220.2" y="218"/>
<use href="#T3Ra" x="281.5" y="218"/>
<use href="#T3Rb" x="342.8" y="218"/>
<use href="#T3Ra" x="404.1" y="218"/>
<use href="#T3Ra" x="465.4" y="218"/>
<use href="#T3Ba" x="526.7" y="218"/>
<use href="#T3Bb" x="588" y="218"/>
<use href="#T3Ba" x="649.3" y="218"/>
<use href="#T3Ba" x="710.6" y="218"/>
<use href="#T3Ba" x="771.9" y="218"/>
<use href="#T3Bb" x="833.2" y="218"/>
<use href="#T3Ba" x="894.5" y="218"/>
<use href="#T3Ba" x="955.8" y="218"/>
<use href="#T4R" x="36.3" y="284"/>
<use href="#T4R" x="97.6" y="284"/>
<use href="#T4B" x="158.9" y="284"/>
<use href="#T4B" x="220.2" y="284"/>
<use href="#T4R" x="281.5" y="284"/>
<use href="#T4R" x="342.8" y="284"/>
<use href="#T4B" x="404.1" y="284"/>
<use href="#T4B" x="465.4" y="284"/>
<use href="#T4R" x="526.7" y="284"/>
<use href="#T4R" x="588" y="284"/>
<use href="#T4B" x="649.3" y="284"/>
<use href="#T4B" x="710.6" y="284"/>
<use href="#T4R" x="771.9" y="284"/>
<use href="#T4R" x="833.2" y="284"/>
<use href="#T4B" x="894.5" y="284"/>
<use href="#T4B" x="955.8" y="284"/>
<use href="#T5R" x="36.3" y="350"/>
<use href="#T5R" x="97.6" y="350"/>
<use href="#T5R" x="158.9" y="350"/>
<use href="#T5R" x="220.2" y="350"/>
<use href="#T5R" x="281.5" y="350"/>
<use href="#T5R" x="342.8" y="350"/>
<use href="#T5R" x="404.1" y="350"/>
<use href="#T5R" x="465.4" y="350"/>
<use href="#T5R" x="526.7" y="350"/>
<use href="#T5R" x="588" y="350"/>
<use href="#T5R" x="649.3" y="350"/>
<use href="#T5R" x="710.6" y="350"/>
<use href="#T5B" x="771.9" y="350"/>
<use href="#T5B" x="833.2" y="350"/>
<use href="#T5B" x="894.5" y="350"/>
<use href="#T5B" x="955.8" y="350"/>
<use href="#T6Ra" x="36.3" y="416"/>
<use href="#T6Ra" x="97.6" y="416"/>
<use href="#T6Ra" x="158.9" y="416"/>
<use href="#T6Bc" x="220.2" y="416"/>
<use href="#T6Rg" x="281.5" y="416"/>
<use href="#T6Rg" x="342.8" y="416"/>
<use href="#T6Rg" x="404.1" y="416"/>
<use href="#T6Bb" x="465.4" y="416"/>
<use href="#T6Ra" x="526.7" y="416"/>
<use href="#T6Ra" x="588" y="416"/>
<use href="#T6Ra" x="649.3" y="416"/>
<use href="#T6Bc" x="710.6" y="416"/>
<use href="#T6Ra" x="771.9" y="416"/>
<use href="#T6Ra" x="833.2" y="416"/>
<use href="#T6Ra" x="894.5" y="416"/>
<use href="#T6Bc" x="955.8" y="416"/>
<use href="#T7R" x="281.5" y="482"/>
<use href="#T7B" x="342.8" y="482"/>
<use href="#T7R" x="404.1" y="482"/>
<use href="#T7R" x="465.4" y="482"/>
<use href="#T8" x="833.2" y="548"/>
</g>
</svg>
